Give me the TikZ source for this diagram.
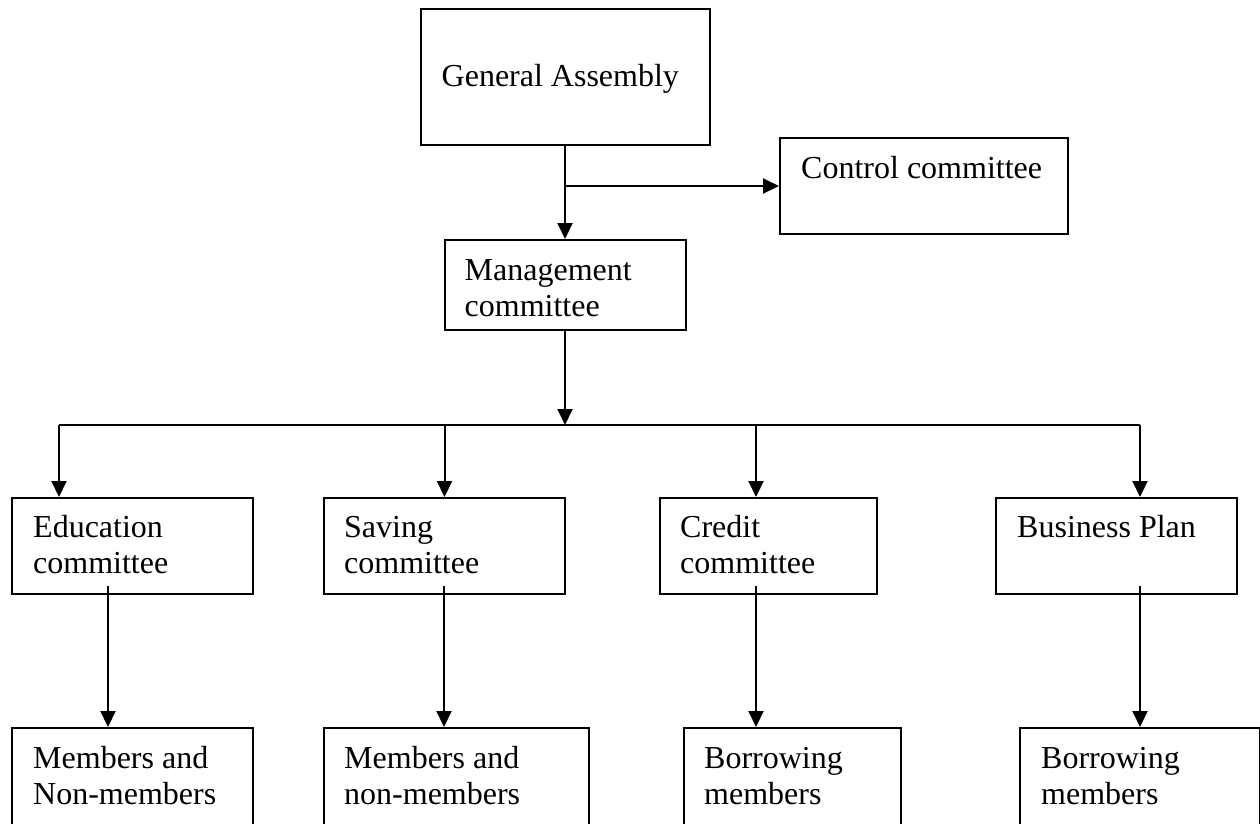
\documentclass[tikz,border=0pt]{standalone}
\usepackage{fontspec}
\setmainfont{Liberation Serif}
\usetikzlibrary{arrows.meta,calc}
\begin{document}
\begin{tikzpicture}[x=1pt,y=-1pt,
  box/.style={draw,line width=2pt,inner sep=0pt,anchor=north west},
  txt/.style={anchor=base west,align=left,inner sep=0pt,font=\fontsize{32}{36.5}\selectfont},
  txttwo/.style={txt,yshift=-36.5pt},
  arr/.style={line width=2pt,-{Triangle[length=16pt,width=15pt]}},
  ln/.style={line width=2pt}]
\useasboundingbox (0,0) rectangle (1260,823);
\clip (0,0) rectangle (1260,823);
% boxes
\node[box,minimum width=289pt,minimum height=136pt] (ga) at (419.5,8) {};
\node[box,minimum width=288pt,minimum height=96pt] (ctrl) at (779,137) {};
\node[box,minimum width=241pt,minimum height=90pt] (mgmt) at (443.5,239) {};
\node[box,minimum width=241pt,minimum height=96pt] (edu) at (11,497) {};
\node[box,minimum width=241pt,minimum height=96pt] (sav) at (323,497) {};
\node[box,minimum width=217pt,minimum height=96pt] (cred) at (659,497) {};
\node[box,minimum width=241pt,minimum height=96pt] (bus) at (995,497) {};
\node[box,minimum width=241pt,minimum height=113pt] (mem1) at (11,727) {};
\node[box,minimum width=265pt,minimum height=113pt] (mem2) at (323,727) {};
\node[box,minimum width=217pt,minimum height=113pt] (bor1) at (683,727) {};
\node[box,minimum width=240pt,minimum height=113pt] (bor2) at (1019,727) {};
% texts
\node[txt] (tga) at ($(ga.north west)+(22,78)$) {General Assembly};
\node[txt] (tctrl) at ($(ctrl.north west)+(22,41)$) {Control committee};
\node[txttwo] (tmgmt) at ($(mgmt.north west)+(21,41)$) {Management\\committee};
\node[txttwo] (tedu) at ($(edu.north west)+(22,40)$) {Education\\committee};
\node[txttwo] (tsav) at ($(sav.north west)+(21,40)$) {Saving\\committee};
\node[txttwo] (tcred) at ($(cred.north west)+(21,40)$) {Credit\\committee};
\node[txt] (tbus) at ($(bus.north west)+(22,40)$) {Business Plan};
\node[txttwo] (tmem1) at ($(mem1.north west)+(22,41)$) {Members and\\Non-members};
\node[txttwo] (tmem2) at ($(mem2.north west)+(21,41)$) {Members and\\non-members};
\node[txttwo] (tbor1) at ($(bor1.north west)+(21,41)$) {Borrowing\\members};
\node[txttwo] (tbor2) at ($(bor2.north west)+(22,41)$) {Borrowing\\members};
% top connectors
\draw[arr] (ga.south) -- (mgmt.north);
\draw[arr] (ga.south |- ctrl.west) -- (ctrl.west);
% bus
\coordinate (hub) at (564,425);
\coordinate (busL) at (59,425);
\coordinate (busR) at (1140,425);
\coordinate (busC) at (756,425);
\draw[arr] (mgmt.south) -- (mgmt.south |- hub);
\draw[ln] (busL) -- (busR);
\draw[arr] (busL) -- (busL |- edu.north);
\draw[arr] (hub -| sav.north) -- (sav.north);
\draw[arr] (busC) -- (busC |- cred.north);
\draw[arr] (busR) -- (busR |- bus.north);
% lower connectors
\coordinate (e1) at ($(edu.south west)+(97,-9)$);
\coordinate (e2) at ($(sav.south west)+(121,-9)$);
\coordinate (e3) at ($(cred.south west)+(97,-9)$);
\coordinate (e4) at ($(bus.south west)+(145,-9)$);
\draw[arr] (e1) -- (e1 |- mem1.north);
\draw[arr] (e2) -- (e2 |- mem2.north);
\draw[arr] (e3) -- (e3 |- bor1.north);
\draw[arr] (e4) -- (e4 |- bor2.north);
\end{tikzpicture}
\end{document}
